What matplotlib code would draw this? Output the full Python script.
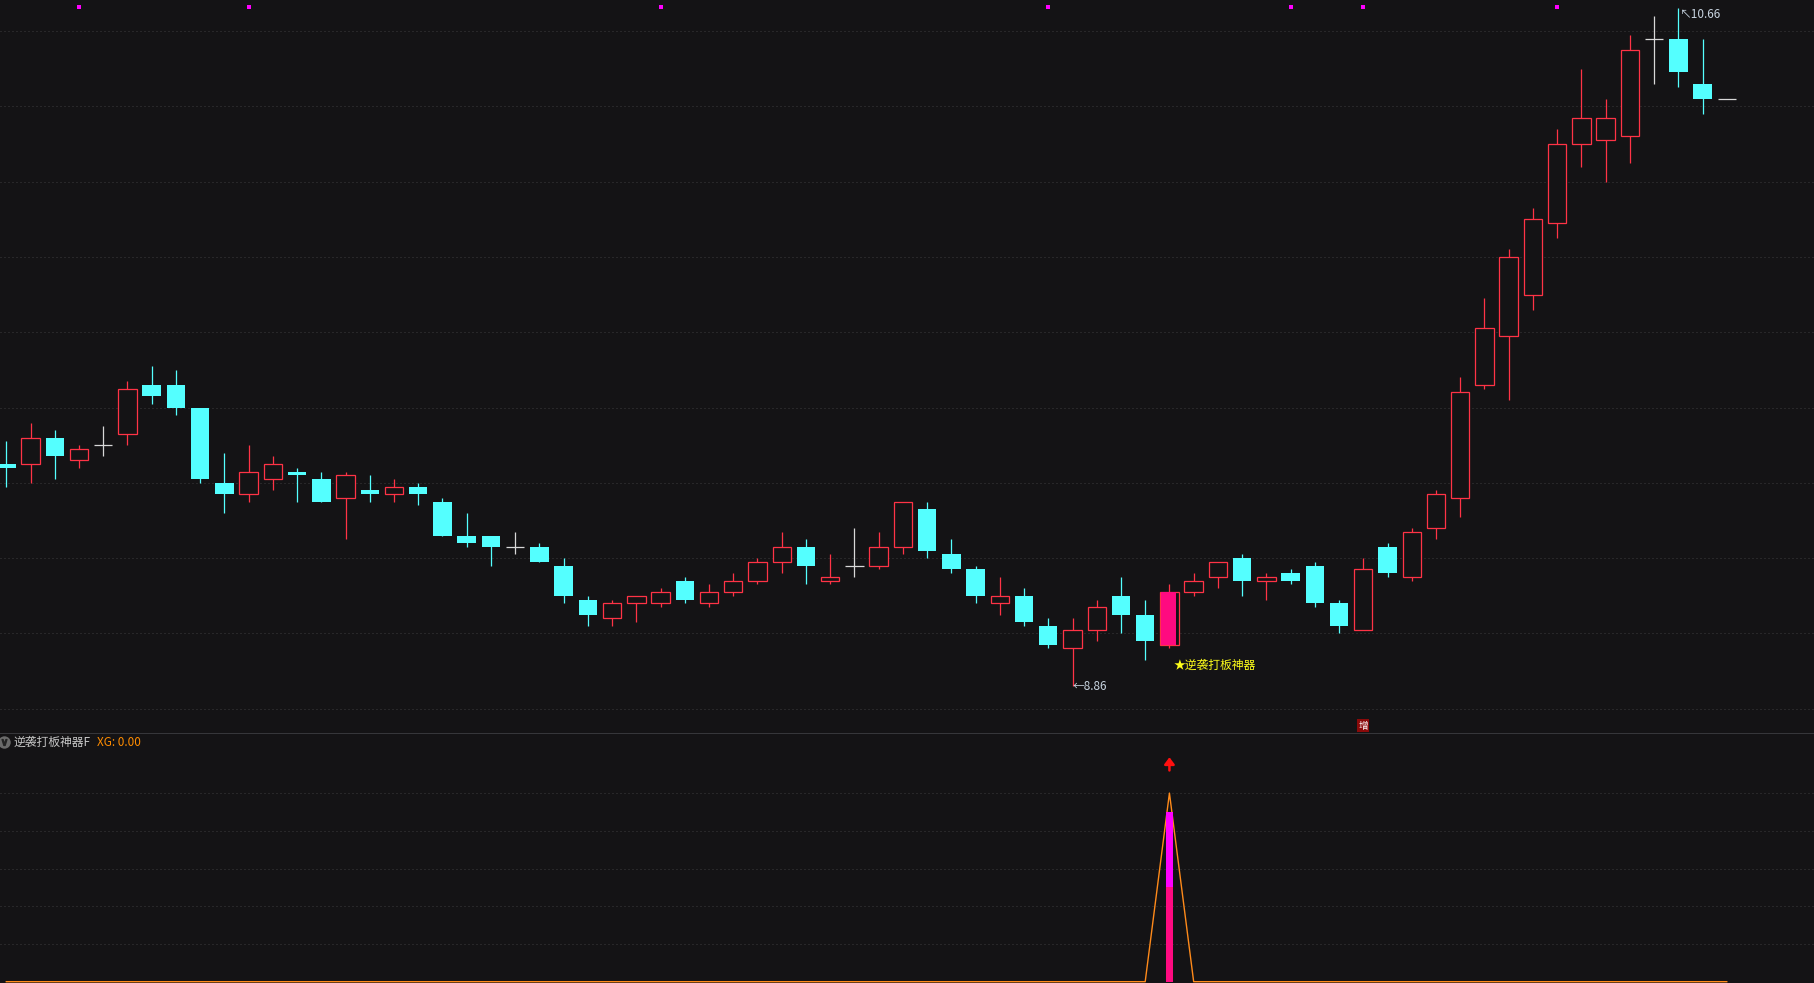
import matplotlib

matplotlib.use("Agg")
import matplotlib.pyplot as plt
import numpy as np

plt.rcParams["font.family"] = ["Noto Sans CJK SC", "DejaVu Sans"]

# colours of the trading terminal
BG = "#141315"
RED = "#ff3346"
CYAN = "#54ffff"
PINK = "#ff0a80"
MAGENTA = "#ff00ff"
DOJI = "#d8d8d8"
GRID = "#3c3c3e"
ORANGE = "#ff8a1a"

# daily OHLC (72 bars)
opens = [9.45, 9.45, 9.52, 9.46, 9.50, 9.53, 9.66, 9.66, 9.60, 9.40,
         9.37, 9.41, 9.43, 9.41, 9.36, 9.38, 9.37, 9.39, 9.35, 9.26,
         9.26, 9.23, 9.23, 9.18, 9.09, 9.04, 9.08, 9.08, 9.14, 9.08,
         9.11, 9.14, 9.19, 9.23, 9.14, 9.18, 9.18, 9.23, 9.33, 9.21,
         9.17, 9.08, 9.10, 9.02, 8.96, 9.01, 9.10, 9.05, 8.97, 9.11,
         9.15, 9.20, 9.14, 9.16, 9.18, 9.08, 9.01, 9.23, 9.15, 9.28,
         9.36, 9.66, 9.79, 9.90, 10.09, 10.30, 10.31, 10.32, 10.58, 10.58,
         10.46, 10.42]
highs = [9.51, 9.56, 9.54, 9.50, 9.55, 9.67, 9.71, 9.70, 9.60, 9.48,
         9.50, 9.47, 9.44, 9.43, 9.43, 9.42, 9.41, 9.40, 9.36, 9.32,
         9.26, 9.27, 9.24, 9.20, 9.10, 9.09, 9.10, 9.12, 9.15, 9.13,
         9.16, 9.20, 9.27, 9.25, 9.21, 9.28, 9.27, 9.35, 9.35, 9.25,
         9.18, 9.15, 9.12, 9.04, 9.04, 9.09, 9.15, 9.09, 9.13, 9.16,
         9.19, 9.21, 9.16, 9.17, 9.19, 9.09, 9.20, 9.24, 9.28, 9.38,
         9.68, 9.89, 10.02, 10.13, 10.34, 10.50, 10.42, 10.59, 10.64, 10.66,
         10.58, 10.42]
lows = [9.39, 9.40, 9.41, 9.44, 9.47, 9.50, 9.61, 9.58, 9.40, 9.32,
        9.35, 9.38, 9.35, 9.35, 9.25, 9.35, 9.35, 9.34, 9.26, 9.23,
        9.18, 9.21, 9.19, 9.08, 9.02, 9.02, 9.03, 9.07, 9.08, 9.07,
        9.10, 9.13, 9.16, 9.13, 9.13, 9.15, 9.17, 9.21, 9.20, 9.16,
        9.08, 9.05, 9.02, 8.96, 8.86, 8.98, 9.00, 8.93, 8.96, 9.10,
        9.12, 9.10, 9.09, 9.13, 9.07, 9.00, 9.01, 9.15, 9.14, 9.25,
        9.31, 9.65, 9.62, 9.86, 10.05, 10.24, 10.20, 10.25, 10.46, 10.45,
        10.38, 10.42]
closes = [9.44, 9.52, 9.47, 9.49, 9.50, 9.65, 9.63, 9.60, 9.41, 9.37,
          9.43, 9.45, 9.42, 9.35, 9.42, 9.37, 9.39, 9.37, 9.26, 9.24,
          9.23, 9.23, 9.19, 9.10, 9.05, 9.08, 9.10, 9.11, 9.09, 9.11,
          9.14, 9.19, 9.23, 9.18, 9.15, 9.18, 9.23, 9.35, 9.22, 9.17,
          9.10, 9.10, 9.03, 8.97, 9.01, 9.07, 9.05, 8.98, 9.11, 9.14,
          9.19, 9.14, 9.15, 9.14, 9.08, 9.02, 9.17, 9.16, 9.27, 9.37,
          9.64, 9.81, 10.00, 10.10, 10.30, 10.37, 10.37, 10.55, 10.58, 10.49,
          10.42, 10.42]

signal_idx = 48          # bar flagged by the indicator
zeng_idx = 56            # bar with the small "增" tag
marker_idx = [3, 10, 27, 43, 53, 56, 64]
low_idx, low_label = 44, "8.86"
high_idx, high_label = 69, "10.66"

# indicator panel: XG line and the stacked signal column
xg = [0, 0, 0, 0, 0, 0, 0, 0, 0, 0,
      0, 0, 0, 0, 0, 0, 0, 0, 0, 0,
      0, 0, 0, 0, 0, 0, 0, 0, 0, 0,
      0, 0, 0, 0, 0, 0, 0, 0, 0, 0,
      0, 0, 0, 0, 0, 0, 0, 0, 1, 0,
      0, 0, 0, 0, 0, 0, 0, 0, 0, 0,
      0, 0, 0, 0, 0, 0, 0, 0, 0, 0,
      0, 0]
bar_low = 0.5
bar_high = 0.9

price_grid = [8.8, 9.0, 9.2, 9.4, 9.6, 9.8, 10.0, 10.2, 10.4, 10.6]
ind_grid = [0.2, 0.4, 0.6, 0.8, 1.0]

W, H = 1814, 983
SPLIT = 733  # pixel row of the panel separator

o = np.array(opens)
h = np.array(highs)
l = np.array(lows)
c = np.array(closes)
x = np.arange(len(o))

fig = plt.figure(figsize=(W / 100, H / 100), dpi=100, facecolor=BG)
ax = fig.add_axes((0, (H - SPLIT) / H, 1, SPLIT / H))
ax2 = fig.add_axes((0, 0, 1, (H - SPLIT) / H))
for a in (ax, ax2):
    a.set_facecolor(BG)
    a.set_xticks([])
    a.set_yticks([])
    for s in a.spines.values():
        s.set_visible(False)
    a.set_xlim(-0.26, 74.6)

ax.set_ylim(8.7355, 10.6823)
ax2.set_ylim(-0.007, 1.3186)

dots = (0, (1, 3))
for g in price_grid:
    ax.axhline(g, color=GRID, lw=0.72, linestyle=dots, zorder=0)
for g in ind_grid:
    ax2.axhline(g, color=GRID, lw=0.72, linestyle=dots, zorder=0)

# candles
bw = 0.76
up = c > o
dn = c < o
doji = c == o
sig = x == signal_idx
up_n = up & ~sig

wick_col = np.where(up, RED, np.where(dn, CYAN, DOJI))
ax.vlines(x, l, h, colors=list(wick_col), lw=0.9, zorder=2)
ax.bar(x[up_n], (c - o)[up_n], bottom=o[up_n], width=bw,
       facecolor=BG, edgecolor=RED, lw=0.9, zorder=3)
ax.bar(x[dn], (o - c)[dn], bottom=c[dn], width=bw,
       color=CYAN, lw=0, zorder=3)
ax.hlines(c[doji], x[doji] - bw / 2, x[doji] + bw / 2,
          colors=DOJI, lw=0.9, zorder=3)
# signal bar: red outline with a slightly narrower pink fill
ax.bar(x[sig], (c - o)[sig], bottom=o[sig], width=bw,
       facecolor=BG, edgecolor=RED, lw=0.9, zorder=3)
ax.bar(x[sig] - 0.03, (c - o)[sig], bottom=o[sig], width=bw * 0.8,
       color=PINK, lw=0, zorder=4)

# top markers
ax.scatter(marker_idx, [10.665] * len(marker_idx), marker="s", s=5,
           color=MAGENTA, lw=0, zorder=4)

# price labels
ax.text(low_idx, lows[low_idx], "\u2190" + low_label, ha="left", va="center",
        color="#c8d4e0", fontsize=8.5, zorder=5)
ax.text(high_idx + 0.05, 10.645, "\u2196" + high_label, ha="left", va="center",
        color="#c8d4e0", fontsize=8.5, zorder=5)
ax.text(signal_idx + 0.16, 8.916, "\u2605逆袭打板神器", ha="left", va="center",
        color="#ffff1a", fontsize=8.5, zorder=5)
ax.text(zeng_idx, 8.7554, "增", ha="center", va="center", color="white",
        fontsize=7, zorder=5,
        bbox=dict(boxstyle="square,pad=0.12", fc="#8a0a0a", ec="none"))

# separator
ax2.axhline(1.3186, color="#3e3e42", lw=1.2, zorder=1)

# indicator panel
ax2.plot(x, xg, color=ORANGE, lw=1.0, zorder=2)
ax2.bar(signal_idx, bar_low, width=0.29, color=PINK, lw=0, zorder=3)
ax2.bar(signal_idx, bar_high - bar_low, bottom=bar_low, width=0.29,
        color=MAGENTA, lw=0, zorder=3)
ax2.annotate("", xy=(signal_idx, 1.19), xytext=(signal_idx, 1.12),
             arrowprops=dict(arrowstyle="-|>,head_length=0.4,head_width=0.3",
                             color="#ff1010", lw=1.8, mutation_scale=10,
                             shrinkA=0, shrinkB=0))

# panel title
ty = (H - 742) / (H - SPLIT)
ax2.scatter([4 / W], [ty], s=80, color="#6a6a6a", lw=0,
            transform=ax2.transAxes, clip_on=False, zorder=4)
ax2.scatter([4 / W], [ty], s=18, marker=r"$\vee$", color="#242424",
            transform=ax2.transAxes, clip_on=False, zorder=5)
ax2.text(14 / W, ty, "逆袭打板神器F", transform=ax2.transAxes,
         ha="left", va="center", color="#c8c8c8", fontsize=8.5)
ax2.text(97 / W, ty, "XG: 0.00", transform=ax2.transAxes,
         ha="left", va="center", color="#ff8c00", fontsize=8.5)

fig.savefig("out.png", dpi=100, facecolor=BG)
